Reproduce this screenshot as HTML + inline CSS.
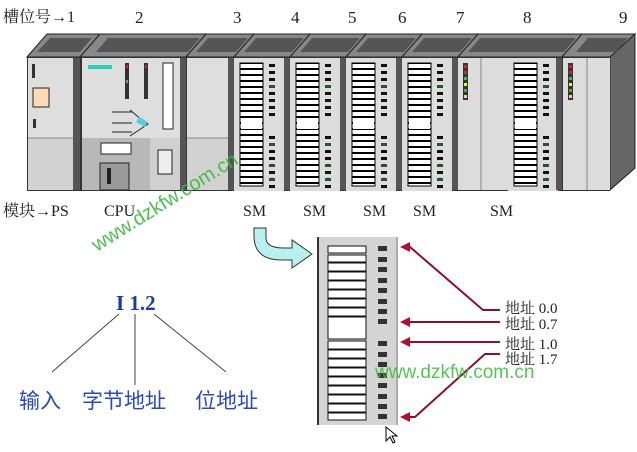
<!DOCTYPE html>
<html><head><meta charset="utf-8"><style>
body{margin:0;background:#fff;width:637px;height:452px;overflow:hidden}
svg{display:block}
.t{font-family:"Liberation Serif","Noto Serif CJK SC",serif;fill:#222}
</style></head><body>
<svg width="637" height="452" viewBox="0 0 637 452" xmlns="http://www.w3.org/2000/svg">
<defs>
<pattern id="st" x="0" y="0" width="8" height="6" patternUnits="userSpaceOnUse">
<rect width="8" height="6" fill="#fff"/><rect y="4" width="8" height="2.4" fill="#000"/>
</pattern>
<g id="sm">
<rect x="0" y="0" width="50" height="133" fill="#dcdcdc"/>
<rect x="6" y="5" width="23" height="123" fill="url(#st)" stroke="#000" stroke-width="1"/>
<rect x="7" y="60" width="21" height="11" fill="#fff"/>
<g fill="#111">
<rect x="35" y="6" width="6" height="3"/><rect x="35" y="13" width="6" height="3"/><rect x="35" y="20" width="6" height="3"/><rect x="35" y="27" width="6" height="3" fill="#253"/><rect x="35" y="34" width="6" height="3"/><rect x="35" y="41" width="6" height="3"/><rect x="35" y="48" width="6" height="3"/><rect x="35" y="55" width="6" height="3"/>
<rect x="35" y="78" width="6" height="3"/><rect x="35" y="85" width="6" height="3" fill="#253"/><rect x="35" y="92" width="6" height="3"/><rect x="35" y="99" width="6" height="3"/><rect x="35" y="106" width="6" height="3" fill="#253"/><rect x="35" y="113" width="6" height="3"/><rect x="35" y="120" width="6" height="3" fill="#253"/><rect x="35" y="127" width="6" height="3"/>
</g>
</g>
</defs>
<text class="t" x="3" y="22" font-size="16">槽位号→1</text>
<g class="t" font-size="17">
<text x="135" y="23">2</text><text x="233" y="23">3</text><text x="291" y="23">4</text><text x="348" y="23">5</text><text x="398" y="23">6</text><text x="456" y="23">7</text><text x="523" y="23">8</text><text x="619" y="23">9</text>
</g>
<g stroke="#222" stroke-width="1">
<polygon points="27,57 47,34 100,34 80,57" fill="#888"/>
<polygon points="80,57 100,34 206,34 186,57" fill="#888"/>
<polygon points="186,57 206,34 254,34 234,57" fill="#888"/>
<polygon points="234,57 254,34 310,34 290,57" fill="#888"/>
<polygon points="290,57 310,34 366,34 346,57" fill="#888"/>
<polygon points="346,57 366,34 422,34 402,57" fill="#888"/>
<polygon points="402,57 422,34 478,34 458,57" fill="#888"/>
<polygon points="458,57 478,34 582,34 562,57" fill="#888"/>
<polygon points="562,57 582,34 635,34 610,57" fill="#888"/>
<polygon points="610,57 635,34 635,168 610,190" fill="#666"/>
</g>
<g fill="#555">
<polygon points="37,52 50,38 92,38 80,52"/><polygon points="96,52 108,38 200,38 188,52"/><polygon points="196,52 208,38 248,38 236,52"/>
<polygon points="244,52 256,38 304,38 292,52"/><polygon points="300,52 312,38 360,38 348,52"/><polygon points="356,52 368,38 416,38 404,52"/><polygon points="412,52 424,38 472,38 460,52"/><polygon points="468,52 480,38 576,38 564,52"/><polygon points="576,52 588,38 628,38 616,52"/>
</g>
<rect x="27" y="57" width="583" height="134" fill="#333"/>
<rect x="28" y="58" width="45" height="132" fill="#dedede"/>
<rect x="28" y="138" width="45" height="52" fill="#d2d2d2"/><line x1="28" y1="138" x2="73" y2="138" stroke="#888"/>
<rect x="32" y="64" width="3" height="14" fill="#333"/>
<rect x="33" y="88" width="16" height="19" fill="#fdd9b5" stroke="#222"/>
<rect x="33" y="119" width="3" height="9" fill="#333"/>
<rect x="73" y="58" width="7" height="132" fill="#555"/>
<rect x="82" y="58" width="98" height="132" fill="#dedede"/>
<rect x="82" y="138" width="98" height="52" fill="#b8b8b8"/>
<rect x="150" y="138" width="30" height="52" fill="#d0d0d0"/>
<rect x="88" y="65" width="24" height="4" fill="#3cb"/>
<rect x="125" y="63" width="4" height="36" fill="#333"/><rect x="144" y="63" width="4" height="36" fill="#333"/>
<rect x="126" y="65" width="2" height="3" fill="#c24"/><rect x="145" y="65" width="2" height="3" fill="#c24"/><rect x="126" y="80" width="2" height="3" fill="#4b6"/>
<rect x="163" y="63" width="10" height="66" fill="#fff" stroke="#222"/>
<path d="M112 112h20M112 123h20M112 132h20M130 110l12 10l6 4l-6 4l-12 8" stroke="#222" fill="none"/>
<rect x="137" y="119" width="10" height="6" fill="#5cd" transform="rotate(30 142 122)"/>
<rect x="101" y="143" width="30" height="11" fill="#fff" stroke="#222"/>
<rect x="100" y="163" width="29" height="27" fill="#9a9a9a" stroke="#222"/>
<rect x="107" y="168" width="4" height="16" fill="#222"/>
<rect x="158" y="150" width="14" height="24" fill="#eee" stroke="#222"/>
<rect x="180" y="58" width="6" height="132" fill="#555"/>
<rect x="187" y="58" width="41" height="132" fill="#dedede"/>
<rect x="187" y="138" width="41" height="52" fill="#d2d2d2"/><line x1="187" y1="138" x2="228" y2="138" stroke="#888"/>
<rect x="228" y="58" width="6" height="132" fill="#555"/>
<use href="#sm" x="234" y="58"/><rect x="284" y="58" width="6" height="132" fill="#555"/>
<use href="#sm" x="290" y="58"/><rect x="340" y="58" width="6" height="132" fill="#555"/>
<use href="#sm" x="346" y="58"/><rect x="396" y="58" width="6" height="132" fill="#555"/>
<use href="#sm" x="402" y="58"/><rect x="452" y="58" width="6" height="132" fill="#555"/>
<rect x="458" y="58" width="50" height="132" fill="#dcdcdc"/><line x1="481" y1="58" x2="481" y2="190" stroke="#888"/>
<use href="#sm" x="508" y="58"/><rect x="556" y="58" width="6" height="132" fill="#555"/>
<rect x="463" y="63" width="5" height="37" fill="#333"/>
<rect x="464" y="65" width="3" height="3" fill="#c24"/><rect x="464" y="71" width="3" height="3" fill="#c24"/><rect x="464" y="77" width="3" height="3" fill="#4b4"/><rect x="464" y="83" width="3" height="3" fill="#ee4"/><rect x="464" y="89" width="3" height="3" fill="#4a4"/><rect x="464" y="95" width="3" height="3" fill="#fc9"/>
<rect x="563" y="58" width="47" height="132" fill="#dcdcdc"/><line x1="587" y1="58" x2="587" y2="190" stroke="#888"/>
<rect x="568" y="63" width="5" height="37" fill="#333"/>
<rect x="569" y="65" width="3" height="3" fill="#c24"/><rect x="569" y="71" width="3" height="3" fill="#c24"/><rect x="569" y="77" width="3" height="3" fill="#4b4"/><rect x="569" y="83" width="3" height="3" fill="#ee4"/><rect x="569" y="89" width="3" height="3" fill="#4a4"/><rect x="569" y="95" width="3" height="3" fill="#fc9"/>
<text class="t" x="3" y="216" font-size="16">模块→PS</text>
<g class="t" font-size="16"><text x="104" y="216">CPU</text><text x="243" y="216">SM</text><text x="303" y="216">SM</text><text x="363" y="216">SM</text><text x="413" y="216">SM</text><text x="490" y="216">SM</text></g>
<path d="M254 228h12v10q0 10 18 10h8v-8l20 14l-20 14v-8h-10q-28 0-28-24z" fill="#b8f0f0" stroke="#333"/>
<rect x="317" y="237" width="81" height="188" fill="#d4d4d4"/>
<line x1="318" y1="237" x2="318" y2="425" stroke="#333" stroke-width="2"/>
<line x1="397" y1="237" x2="397" y2="425" stroke="#888"/>
<g fill="#fff" stroke="#111" stroke-width="1">
<rect x="328" y="246" width="38" height="7"/><rect x="328" y="255" width="38" height="7"/><rect x="328" y="263" width="38" height="8"/><rect x="328" y="272" width="38" height="8"/><rect x="328" y="281" width="38" height="8"/><rect x="328" y="290" width="38" height="8"/><rect x="328" y="299" width="38" height="8"/><rect x="328" y="308" width="38" height="8"/>
<rect x="328" y="317" width="38" height="22"/>
<rect x="328" y="341" width="38" height="8"/><rect x="328" y="350" width="38" height="8"/><rect x="328" y="359" width="38" height="8"/><rect x="328" y="368" width="38" height="8"/><rect x="328" y="377" width="38" height="8"/><rect x="328" y="386" width="38" height="8"/><rect x="328" y="395" width="38" height="8"/><rect x="328" y="404" width="38" height="8"/><rect x="328" y="413" width="38" height="7"/>
</g>
<g fill="#333">
<rect x="378" y="246" width="9" height="5"/><rect x="378" y="257" width="9" height="5"/><rect x="378" y="267" width="9" height="5"/><rect x="378" y="278" width="9" height="5"/><rect x="378" y="288" width="9" height="5"/><rect x="378" y="299" width="9" height="5"/><rect x="378" y="309" width="9" height="5"/><rect x="378" y="319" width="9" height="5"/>
<rect x="378" y="341" width="9" height="5"/><rect x="378" y="352" width="9" height="5"/><rect x="378" y="362" width="9" height="5"/><rect x="378" y="373" width="9" height="5"/><rect x="378" y="383" width="9" height="5"/><rect x="378" y="394" width="9" height="5"/><rect x="378" y="404" width="9" height="5"/><rect x="378" y="414" width="9" height="5"/>
</g>
<path d="M386 427l0 14l4-4l3 6l2-1l-3-6l5 0z" fill="#fff" stroke="#000"/>
<g stroke="#8a1030" stroke-width="2" fill="none">
<path d="M500 310H483L410 247H404"/>
<path d="M500 322H404"/>
<path d="M500 342H404"/>
<path d="M500 354H485L415 417H404"/>
</g>
<g fill="#b01030">
<polygon points="400,247 410,242 410,252"/><polygon points="400,322 410,317 410,327"/><polygon points="400,342 410,337 410,347"/><polygon points="400,417 410,412 410,422"/>
</g>
<g class="t" font-size="15"><text x="505" y="313">地址 0.0</text><text x="505" y="329">地址 0.7</text><text x="505" y="349">地址 1.0</text><text x="505" y="364">地址 1.7</text></g>
<text x="116" y="310" font-family="Liberation Serif,serif" font-weight="bold" font-size="21" fill="#1a3aa8">I 1.2</text>
<g stroke="#444" stroke-width="1"><line x1="119" y1="314" x2="52" y2="372"/><line x1="135" y1="314" x2="135" y2="385"/><line x1="154" y1="314" x2="226" y2="372"/></g>
<g font-family="Liberation Sans,Noto Sans CJK SC,sans-serif" font-size="21" fill="#2a4ab8"><text x="19" y="408">输入</text><text x="82" y="408">字节地址</text><text x="195" y="408">位地址</text></g>
<text x="97" y="252" transform="rotate(-32 97 252)" font-family="Liberation Sans,sans-serif" font-size="20" fill="#3cb83c" opacity="0.9">www.dzkfw.com.cn</text>
<text x="375" y="378" font-family="Liberation Sans,sans-serif" font-size="19" fill="#3cb83c" opacity="0.85">www.dzkfw.com.cn</text>
</svg>
</body></html>
